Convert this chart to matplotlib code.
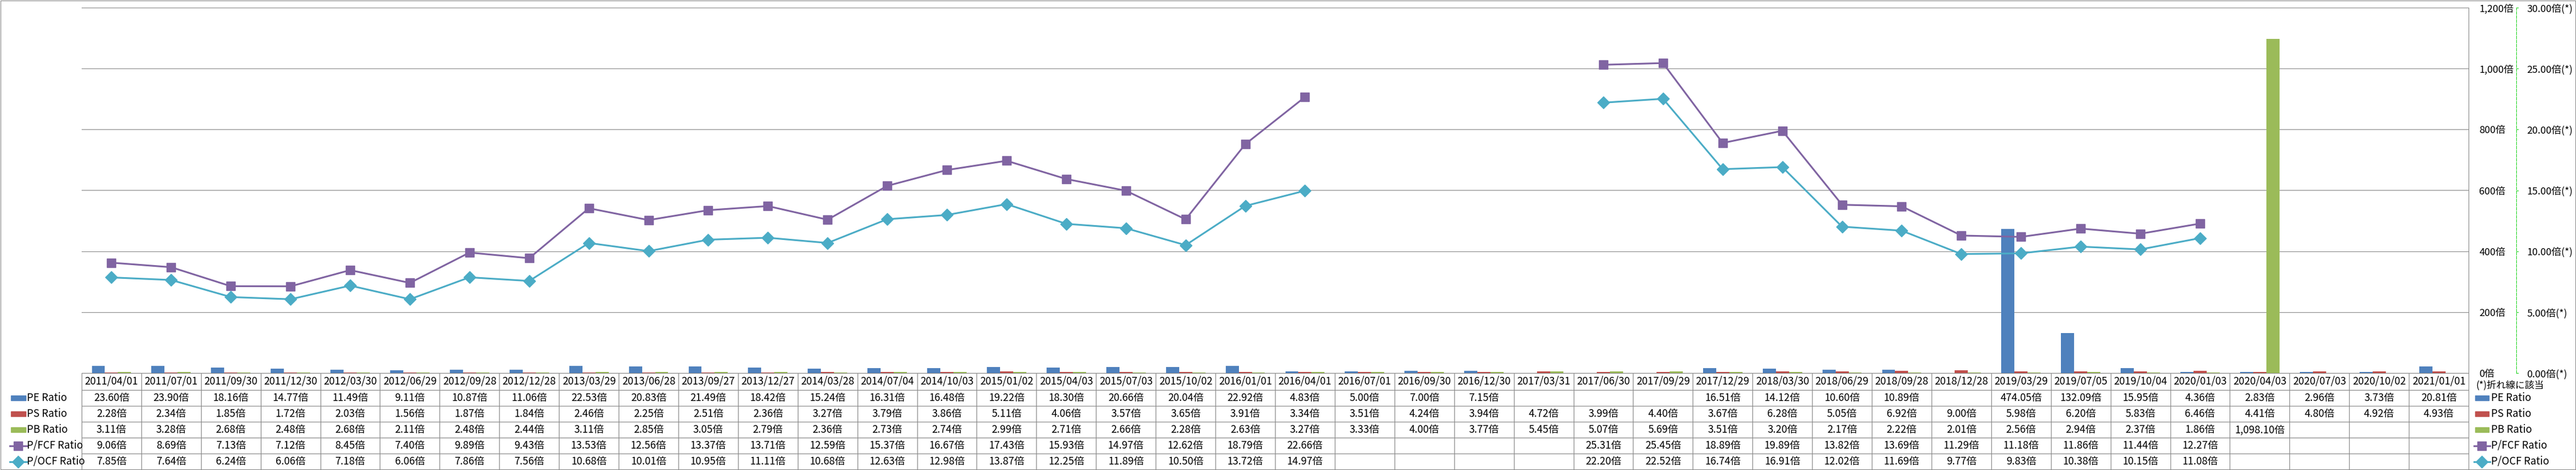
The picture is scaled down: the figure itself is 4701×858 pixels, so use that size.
import numpy as np
import matplotlib.pyplot as plt
from matplotlib.patches import Rectangle
from matplotlib.lines import Line2D

plt.rcParams['font.family'] = ['Noto Sans CJK JP', 'DejaVu Sans']

dates = ['2011/04/01', '2011/07/01', '2011/09/30', '2011/12/30',
         '2012/03/30', '2012/06/29', '2012/09/28', '2012/12/28',
         '2013/03/29', '2013/06/28', '2013/09/27', '2013/12/27',
         '2014/03/28', '2014/07/04', '2014/10/03', '2015/01/02',
         '2015/04/03', '2015/07/03', '2015/10/02', '2016/01/01',
         '2016/04/01', '2016/07/01', '2016/09/30', '2016/12/30',
         '2017/03/31', '2017/06/30', '2017/09/29', '2017/12/29',
         '2018/03/30', '2018/06/29', '2018/09/28', '2018/12/28',
         '2019/03/29', '2019/07/05', '2019/10/04', '2020/01/03',
         '2020/04/03', '2020/07/03', '2020/10/02', '2021/01/01']
pe_ratio = [23.60, 23.90, 18.16, 14.77, 11.49, 9.11, 10.87, 11.06,
            22.53, 20.83, 21.49, 18.42, 15.24, 16.31, 16.48, 19.22,
            18.30, 20.66, 20.04, 22.92, 4.83, 5.00, 7.00, 7.15,
            None, None, None, 16.51, 14.12, 10.60, 10.89, None,
            474.05, 132.09, 15.95, 4.36, 2.83, 2.96, 3.73, 20.81]
ps_ratio = [2.28, 2.34, 1.85, 1.72, 2.03, 1.56, 1.87, 1.84,
            2.46, 2.25, 2.51, 2.36, 3.27, 3.79, 3.86, 5.11,
            4.06, 3.57, 3.65, 3.91, 3.34, 3.51, 4.24, 3.94,
            4.72, 3.99, 4.40, 3.67, 6.28, 5.05, 6.92, 9.00,
            5.98, 6.20, 5.83, 6.46, 4.41, 4.80, 4.92, 4.93]
pb_ratio = [3.11, 3.28, 2.68, 2.48, 2.68, 2.11, 2.48, 2.44,
            3.11, 2.85, 3.05, 2.79, 2.36, 2.73, 2.74, 2.99,
            2.71, 2.66, 2.28, 2.63, 3.27, 3.33, 4.00, 3.77,
            5.45, 5.07, 5.69, 3.51, 3.20, 2.17, 2.22, 2.01,
            2.56, 2.94, 2.37, 1.86, 1098.10, None, None, None]
pfcf_ratio = [9.06, 8.69, 7.13, 7.12, 8.45, 7.40, 9.89, 9.43,
              13.53, 12.56, 13.37, 13.71, 12.59, 15.37, 16.67, 17.43,
              15.93, 14.97, 12.62, 18.79, 22.66, None, None, None,
              None, 25.31, 25.45, 18.89, 19.89, 13.82, 13.69, 11.29,
              11.18, 11.86, 11.44, 12.27, None, None, None, None]
pocf_ratio = [7.85, 7.64, 6.24, 6.06, 7.18, 6.06, 7.86, 7.56,
              10.68, 10.01, 10.95, 11.11, 10.68, 12.63, 12.98, 13.87,
              12.25, 11.89, 10.50, 13.72, 14.97, None, None, None,
              None, 22.20, 22.52, 16.74, 16.91, 12.02, 11.69, 9.77,
              9.83, 10.38, 10.15, 11.08, None, None, None, None]

bar_series = [('PE Ratio', pe_ratio, '#4F81BD'),
              ('PS Ratio', ps_ratio, '#C0504D'),
              ('PB Ratio', pb_ratio, '#9BBB59')]
line_series = [('P/FCF Ratio', pfcf_ratio, '#8064A2', 's', 12),
               ('P/OCF Ratio', pocf_ratio, '#4BACC6', 'D', 11.5)]

GRAY = '#868686'
GREEN = '#1ED41E'
W, H = 4701, 858


def arr(v):
    return np.array([np.nan if a is None else a for a in v], float)


def frac(x0, y0, x1, y1):
    # pixel box (top-left origin) -> figure fraction
    return [x0 / W, 1 - y1 / H, (x1 - x0) / W, (y1 - y0) / H]


fig = plt.figure(figsize=(W / 100, H / 100), dpi=100)

ax = fig.add_axes(frac(149, 14, 4505, 681))
ax2 = ax.twinx()

# bars on the primary axis
x = np.arange(len(dates))
bw = 0.22
for k, (name, vals, col) in enumerate(bar_series):
    ax.bar(x + (k - 1) * bw, arr(vals), bw, color=col, zorder=2)
ax.set_xlim(-0.5, len(dates) - 0.5)
ax.set_ylim(0, 1200)
ax.set_yticks(np.arange(0, 1201, 200))
ax.yaxis.set_major_formatter(lambda v, p: f'{int(v):,}倍')
ax.yaxis.tick_right()
ax.tick_params(axis='y', length=0, pad=14, labelsize=13)
ax.tick_params(axis='x', bottom=False, labelbottom=False)
ax.grid(axis='y', color=GRAY, lw=0.8)
ax.set_axisbelow(True)
for s in ['left', 'top', 'bottom']:
    ax.spines[s].set_visible(False)
ax.spines['right'].set_color(GRAY)
ax.spines['right'].set_linewidth(0.8)

# lines on the secondary axis
for name, vals, col, mk, ms in line_series:
    ax2.plot(x, arr(vals), color=col, lw=2.3, marker=mk, ms=ms, mec=col, mew=1, zorder=3)
ax2.set_ylim(0, 30)
ax2.set_yticks(np.arange(0, 31, 5))
ax2.yaxis.set_major_formatter(lambda v, p: f'{v:.2f}倍(*)')
for s in ['left', 'top', 'bottom']:
    ax2.spines[s].set_visible(False)
ax2.spines['right'].set_position(('axes', (4592 - 149) / 4356))
ax2.spines['right'].set_color(GREEN)
ax2.spines['right'].set_linewidth(0.8)
ax2.spines['right'].set_linestyle((0, (4.8, 1.9)))
ax2.tick_params(axis='y', length=3, width=0.8, color=GREEN, pad=11, labelsize=13)

# data table under the plot (row names are written with their keys below)
row_labels = [s[0] for s in bar_series] + [s[0] for s in line_series]
all_vals = [s[1] for s in bar_series] + [s[1] for s in line_series]
cell_text = [['' if v is None else f'{v:,.2f}倍' for v in vals] for vals in all_vals]
tbl = ax.table(cellText=cell_text, rowLabels=[''] * len(row_labels), colLabels=dates,
               cellLoc='center', colLoc='center', loc='bottom')
tbl.auto_set_font_size(False)
tbl.set_fontsize(13.5)
for (r, c), cell in tbl.get_celld().items():
    cell.set_edgecolor(GRAY)
    cell.set_linewidth(0.8)
    cell.set_height((31 if r == 0 else 29) / 667)
    cell.set_width(133 / 4356 if c == -1 else 1 / len(dates))

# legend keys, row names, right legend and outer frame (pixel overlay)
ov = fig.add_axes([0, 0, 1, 1])
ov.set_xlim(0, W)
ov.set_ylim(H, 0)
ov.axis('off')
ov.add_patch(Rectangle((1, 1), W - 2, H - 2, fill=False, ec=GRAY, lw=0.8))
row_y = [712 + 29 * i + 14.5 for i in range(5)]
for kx, kw, tx in [(20, 27, 49), (4517, 25, 4546)]:
    for i, (name, vals, col) in enumerate(bar_series):
        ov.add_patch(Rectangle((kx, row_y[i] - 4.5), kw, 9, color=col))
    for j, (name, vals, col, mk, ms) in enumerate(line_series):
        y = row_y[3 + j]
        ov.add_line(Line2D([kx - 2, kx + kw + 2], [y, y], color=col, lw=2.3))
        ov.plot([kx + kw / 2], [y], marker=mk, ms=ms, color=col, mec=col)
    for i, name in enumerate(row_labels):
        ov.text(tx, row_y[i], name, ha='left', va='center', fontsize=13.5)
ov.text(4518, 703, '(*)折れ線に該当', ha='left', va='center', fontsize=12.5)

fig.savefig('out.png', dpi=100)
